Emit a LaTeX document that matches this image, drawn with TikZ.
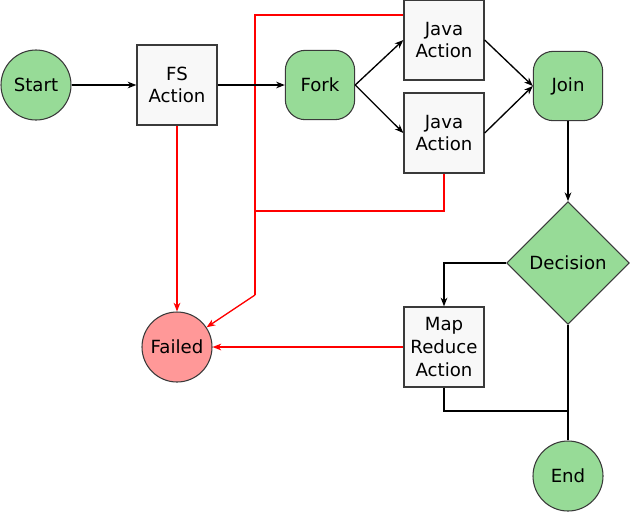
\documentclass[tikz,border=0pt]{standalone}
\usepackage{fontspec}
\setmainfont{DejaVu Sans}
\usetikzlibrary{shapes.geometric,arrows.meta,calc}
\definecolor{nodegreen}{HTML}{97DB97}
\definecolor{failred}{HTML}{FF9898}
\definecolor{boxfill}{HTML}{F8F8F8}
\definecolor{edgegray}{HTML}{3A3A3A}
\begin{document}
\begin{tikzpicture}[x=0.75pt,y=-0.75pt,
  every node/.style={font=\fontsize{13.6}{16.9}\selectfont, align=center, inner sep=0pt},
  ctrl/.style={circle, draw=edgegray, line width=0.8pt, fill=nodegreen, minimum size=52.5pt},
  failnode/.style={circle, draw=edgegray, line width=0.8pt, fill=failred, minimum size=52.5pt},
  actbox/.style={rectangle, draw=edgegray, line width=1pt, fill=boxfill, minimum width=60pt, minimum height=60pt},
  roundbox/.style={rectangle, rounded corners=15pt, draw=edgegray, line width=0.8pt, fill=nodegreen, minimum width=52pt, minimum height=52pt},
  decbox/.style={diamond, draw=edgegray, line width=0.8pt, fill=nodegreen, minimum width=92pt, minimum height=92pt},
  flow/.style={draw=black, line width=1pt, -{Stealth[length=6.5pt,width=5pt,inset=2pt]}},
  plain/.style={draw=black, line width=1pt},
  errflow/.style={draw=red, line width=1pt, -{Stealth[length=6.5pt,width=5pt,inset=2pt]}},
  errplain/.style={draw=red, line width=1pt}
]
\useasboundingbox (0,0) rectangle (631,512);

\node[ctrl] (start) at (36,85) {Start};
\node[actbox] (fs) at (177,85) {FS\\Action};
\node[roundbox] (fork) at (320,85) {Fork};
\node[actbox] (java1) at (444,40) {Java\\Action};
\node[actbox] (java2) at (444,133) {Java\\Action};
\node[roundbox] (join) at (568,86) {Join};
\node[decbox] (dec) at (568,263) {Decision};
\node[actbox] (mr) at (444,347) {Map\\Reduce\\Action};
\node[ctrl] (end) at (568,476) {End};
\node[failnode] (failed) at (177,347) {Failed};

\coordinate (jc) at (255,295);
\coordinate (jm) at (255,211);
\coordinate (mrj) at (568,411);

% red error paths
\draw[errflow] (fs.south) -- (failed.north);
\draw[errplain] ([yshift=18.75pt]java1.west) -| (jc);
\draw[errflow] (jc) -- (failed);
\draw[errplain] (java2.south) |- (jm);
\draw[errflow] (mr.west) -- (failed.east);

% black flow
\draw[flow] (start.east) -- (fs.west);
\draw[flow] (fs.east) -- (fork.west);
\draw[flow] (fork.east) -- (java1.west);
\draw[flow] (fork.east) -- (java2.west);
\draw[flow] (java1.east) -- (join.west);
\draw[flow] (java2.east) -- (join.west);
\draw[flow] (join.south) -- (dec.north);
\draw[flow] (dec.west) -| (mr.north);
\draw[plain] (dec.south) -- (end.north);
\draw[plain] (mr.south) |- (mrj);
\end{tikzpicture}
\end{document}
